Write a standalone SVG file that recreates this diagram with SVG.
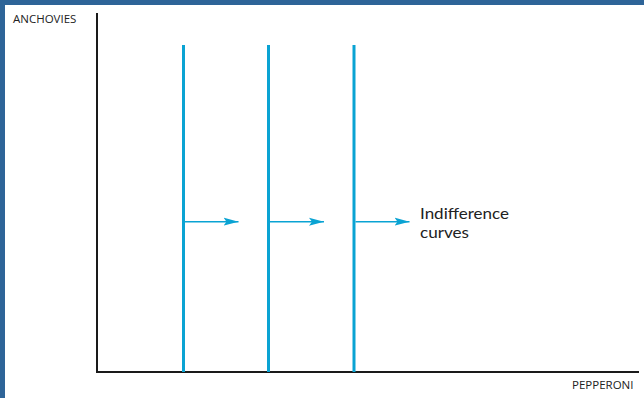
<svg xmlns="http://www.w3.org/2000/svg" width="644" height="398" viewBox="0 0 644 398">
<defs>
<style>
.ax{stroke:#1a1a1a;stroke-width:2;fill:none}
.ic{stroke:#0aa3d3;stroke-width:3;fill:none}
.ar{stroke:#0aa3d3;stroke-width:1.5;fill:none}
.lbl{font-family:"Open Sans","DejaVu Sans",sans-serif;fill:#222}
.big{font-family:Lato,"Open Sans",sans-serif;fill:#222;font-size:16px}
</style>
<marker id="ah" markerWidth="16" markerHeight="10" refX="15" refY="5" orient="auto" markerUnits="userSpaceOnUse">
<path d="M0,1 L15,5 L0,9 L3,5 Z" fill="#0aa3d3"/>
</marker>
</defs>
<rect x="0" y="0" width="644" height="398" fill="#ffffff"/>
<rect x="0" y="0" width="644" height="5" fill="#2e6498"/>
<rect x="0" y="0" width="5" height="398" fill="#2e6498"/>
<g id="axes">
<path class="ax" d="M97,13 V372 H639"/>
<text class="lbl" x="13" y="22.5" font-size="11.5">ANCHOVIES</text>
<text class="lbl" x="572" y="389" font-size="11.5">PEPPERONI</text>
</g>
<g id="curve1"><line class="ic" x1="183.5" y1="45" x2="183.5" y2="372"/></g>
<g id="curve2"><line class="ic" x1="268.5" y1="45" x2="268.5" y2="372"/></g>
<g id="curve3"><line class="ic" x1="354" y1="45" x2="354" y2="372"/></g>
<g id="connectors">
<line class="ar" x1="185" y1="221.7" x2="238.5" y2="221.7" marker-end="url(#ah)"/>
<line class="ar" x1="270" y1="221.7" x2="324" y2="221.7" marker-end="url(#ah)"/>
<line class="ar" x1="355.5" y1="221.7" x2="409.5" y2="221.7" marker-end="url(#ah)"/>
</g>
<g id="label">
<text class="big" x="420" y="218.5" textLength="89" lengthAdjust="spacingAndGlyphs">Indifference</text>
<text class="big" x="420" y="238" textLength="49" lengthAdjust="spacingAndGlyphs">curves</text>
</g>
</svg>
